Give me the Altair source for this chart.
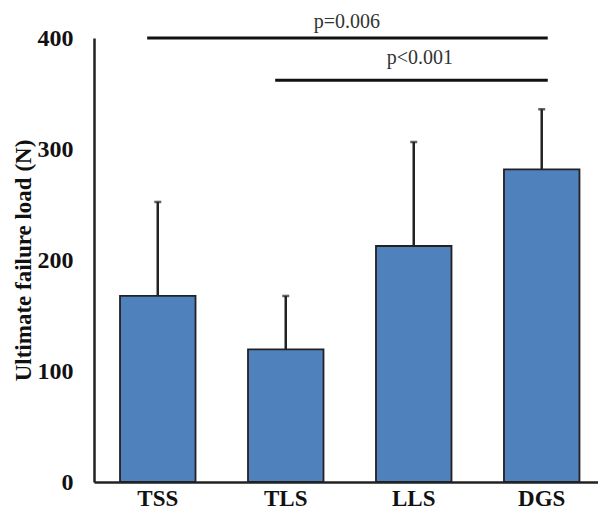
import altair as alt
import pandas as pd

groups = ["TSS", "TLS", "LLS", "DGS"]
means = [167.6, 119.5, 212.6, 281.7]
upper = [252.3, 167.6, 306.3, 335.8]

sig_start = ["TSS", "TLS"]
sig_end = ["DGS", "DGS"]
sig_y = [400.0, 362.0]
sig_label = ["p=0.006", "p<0.001"]
sig_label_y = [409.0, 377.0]
sig_label_x = ["LLS", "LLS"]
sig_label_dx = [-29, 44]

df = pd.DataFrame({"group": groups, "mean": means, "upper": upper})
sig = pd.DataFrame({"start": sig_start, "end": sig_end, "y": sig_y})
lab = pd.DataFrame({"pos": sig_label_x, "label": sig_label, "y": sig_label_y, "dx": sig_label_dx})

FONT = "Liberation Serif"
xscale = alt.Scale(domain=groups, paddingInner=0.41, paddingOuter=0.174, align=0.584)
yscale = alt.Scale(domain=[0, 400])

x_enc = alt.X(
    "group:N",
    scale=xscale,
    sort=groups,
    axis=alt.Axis(
        title=None, labelAngle=0, ticks=False, tickSize=0, labelPadding=5,
        labelFont=FONT, labelFontSize=23, labelFontWeight="bold", labelColor="#111",
        domainColor="#222", domainWidth=2.5,
    ),
)
y_enc = alt.Y(
    "mean:Q",
    scale=yscale,
    axis=alt.Axis(
        title="Ultimate failure load (N)", values=[0, 100, 200, 300, 400],
        grid=False, ticks=False, tickSize=0, labelPadding=21,
        labelFont=FONT, labelFontSize=24, labelFontWeight="bold", labelColor="#111",
        titleFont=FONT, titleFontSize=23, titleFontWeight="bold", titleColor="#111",
        titlePadding=2, domainColor="#222", domainWidth=2.5,
    ),
)

base = alt.Chart(df)

bars = base.mark_bar(fill="#4F81BD", stroke="#222222", strokeWidth=1.8).encode(x=x_enc, y=y_enc)

err = base.mark_rule(color="#222222", strokeWidth=2.5).encode(
    x=alt.X("group:N", scale=xscale, sort=groups),
    y=alt.Y("mean:Q", scale=yscale),
    y2="upper:Q",
)

cap = base.mark_tick(color="#222222", size=7, thickness=2.5, orient="horizontal").encode(
    x=alt.X("group:N", scale=xscale, sort=groups),
    y=alt.Y("upper:Q", scale=yscale),
)

sig_lines = alt.Chart(sig).mark_rule(color="#111111", strokeWidth=3).encode(
    x=alt.X("start:N", scale=xscale, sort=groups, bandPosition=0.36),
    x2=alt.X2("end:N", bandPosition=0.58),
    y=alt.Y("y:Q", scale=yscale),
)

sig_text = alt.Chart(lab).mark_text(
    font=FONT, fontSize=20, color="#333333", baseline="alphabetic", align="center"
).encode(
    x=alt.X("pos:N", scale=xscale, sort=groups),
    y=alt.Y("y:Q", scale=yscale),
    text="label:N",
    xOffset=alt.XOffset("dx:Q", scale=None),
)

chart = alt.layer(bars, err, cap, sig_lines, sig_text).properties(
    width=504,
    height=444,
    padding={"left": 86, "top": 30, "right": 0, "bottom": 29},
    autosize=alt.AutoSizeParams(type="none"),
    background="white",
).configure_view(stroke=None)

chart.save("out.html", embed_options={"renderer": "svg", "actions": False})
